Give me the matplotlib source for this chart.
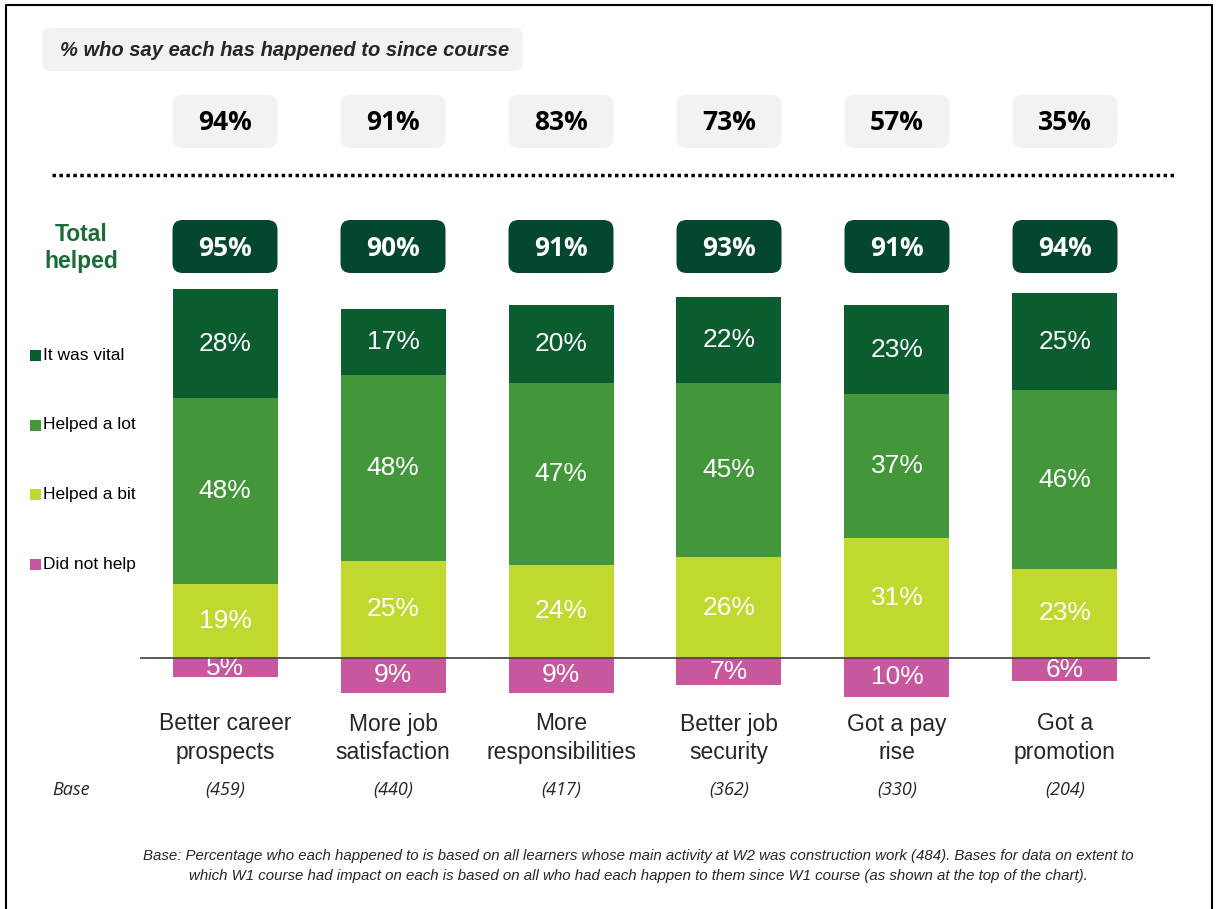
import matplotlib
matplotlib.use("Agg")
import matplotlib.pyplot as plt
from matplotlib.patches import FancyBboxPatch, Rectangle
import numpy as np

plt.rcParams['font.family'] = ['Liberation Sans', 'DejaVu Sans']

# data
categories = ["Better career\nprospects", "More job\nsatisfaction", "More\nresponsibilities",
              "Better job\nsecurity", "Got a pay\nrise", "Got a\npromotion"]
bases = ["(459)", "(440)", "(417)", "(362)", "(330)", "(204)"]
happened = [94, 91, 83, 73, 57, 35]
total_helped = [95, 90, 91, 93, 91, 94]
vital = [28, 17, 20, 22, 23, 25]
helped_lot = [48, 48, 47, 45, 37, 46]
helped_bit = [19, 25, 24, 26, 31, 23]
not_help = [5, 9, 9, 7, 10, 6]
series_names = ["It was vital", "Helped a lot", "Helped a bit", "Did not help"]

C_VITAL = "#0B5C2E"
C_LOT = "#43973A"
C_BIT = "#C1D82F"
C_NOT = "#C8589E"
C_DARK = "#03472F"
C_GREY = "#F2F2F2"

W, H = 1216, 909
fig = plt.figure(figsize=(W / 100, H / 100), dpi=100)

# overlay in pixel coordinates (y from top)
ov = fig.add_axes([0, 0, 1, 1], zorder=0)
ov.set_xlim(0, W)
ov.set_ylim(H, 0)
ov.axis("off")

# bar axes: zero line at y=658 px, 3.88 px per percent
x0, x1 = 140, 1150
y_top, y_bot, y_zero, ppp = 280, 700, 658, 3.88
ax = fig.add_axes([x0 / W, (H - y_bot) / H, (x1 - x0) / W, (y_bot - y_top) / H], zorder=1)
ax.patch.set_alpha(0)
ax.set_xlim(-0.506, 5.506)
ax.set_ylim(-(y_bot - y_zero) / ppp, (y_zero - y_top) / ppp)
for s in ax.spines.values():
    s.set_visible(False)
ax.set_yticks([])

x = np.arange(len(categories))
bw = 0.625
vital_a = np.array(vital)
lot_a = np.array(helped_lot)
bit_a = np.array(helped_bit)
not_a = np.array(not_help)

ax.bar(x, bit_a, bw, color=C_BIT)
ax.bar(x, lot_a, bw, bottom=bit_a, color=C_LOT)
ax.bar(x, vital_a, bw, bottom=bit_a + lot_a, color=C_VITAL)
ax.bar(x, -not_a, bw, color=C_NOT)

lab_kw = dict(ha="center", va="center", color="white", fontsize=19)
for i in x:
    ax.text(i, bit_a[i] / 2, f"{bit_a[i]}%", **lab_kw)
    ax.text(i, bit_a[i] + lot_a[i] / 2, f"{lot_a[i]}%", **lab_kw)
    ax.text(i, bit_a[i] + lot_a[i] + vital_a[i] / 2, f"{vital_a[i]}%", **lab_kw)
    ax.text(i, -not_a[i] / 2, f"{not_a[i]}%", **lab_kw)

ax.axhline(0, color="#404040", lw=1.2, zorder=3)

ax.set_xticks(x)
ax.set_xticklabels(categories, fontsize=16.5, color="#262626", linespacing=1.3)
ax.tick_params(axis="x", length=0, pad=9)

# helper: category x position in overlay pixels
def xpx(v):
    return ov.transData.inverted().transform(ax.transData.transform((v, 0)))[0]

half_w = xpx(bw / 2) - xpx(0)

def rbox(cx, cy, w, h, color, r=10):
    ov.add_patch(FancyBboxPatch((cx - w / 2, cy - h / 2), w, h,
                                boxstyle=f"round,pad=0,rounding_size={r}",
                                fc=color, ec="none"))

for i in x:
    cx = xpx(i)
    rbox(cx, 121.5, 2 * half_w, 53, C_GREY)
    ov.text(cx, 123, f"{happened[i]}%", ha="center", va="center",
            fontsize=19, fontweight="bold", color="black", family=["Open Sans", "DejaVu Sans"])
    rbox(cx, 246.5, 2 * half_w, 53, C_DARK)
    ov.text(cx, 248, f"{total_helped[i]}%", ha="center", va="center",
            fontsize=19, fontweight="bold", color="white", family=["Open Sans", "DejaVu Sans"])
    ov.text(cx, 790, bases[i], ha="center", va="center", fontsize=13,
            style="italic", color="#262626", family=["Open Sans", "DejaVu Sans"])

# title box
rbox(282.5, 49.5, 481, 43, C_GREY, r=8)
ov.text(60, 50, "% who say each has happened to since course", ha="left", va="center",
        fontsize=14.5, style="italic", fontweight="bold", color="#262626")

# dotted separator
ov.plot([52, 1175], [175, 175], color="black", lw=2.5, linestyle=(0, (1, 1)))

# Total helped
ov.text(81, 248, "Total\nhelped", ha="center", va="center", fontsize=16.5,
        fontweight="bold", color="#1B6B35", linespacing=1.25)

# legend
for j, (name, col) in enumerate(zip(series_names, [C_VITAL, C_LOT, C_BIT, C_NOT])):
    yy = [355, 425, 494, 564][j]
    ov.add_patch(Rectangle((30, yy - 5.5), 11, 11, fc=col, ec="none"))
    ov.text(43, yy, name, ha="left", va="center", fontsize=12.5, color="black")

# base row label
ov.text(52, 790, "Base", ha="left", va="center", fontsize=13, style="italic",
        color="#262626", family=["Open Sans", "DejaVu Sans"])

# footnote
ov.text(638, 866, "Base: Percentage who each happened to is based on all learners whose main activity at W2 was construction work (484). "
        "Bases for data on extent to\nwhich W1 course had impact on each is based on all who had each happen to them since W1 course (as shown at the top of the chart).",
        ha="center", va="center", fontsize=10.8, style="italic", color="#262626", linespacing=1.5)

# outer frame
ov.plot([6, 6, 1212, 1212], [H + 5, 5, 5, H + 5], color="black", lw=1.5)

fig.savefig("out.png", dpi=100)
